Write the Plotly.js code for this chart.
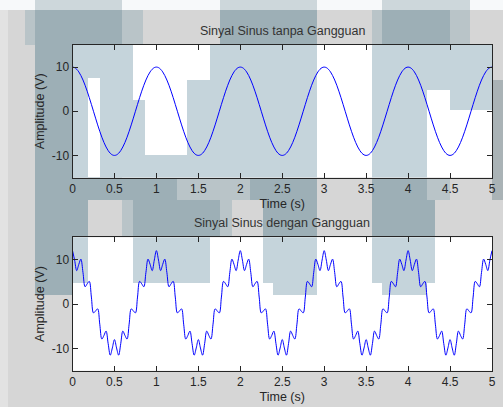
<!DOCTYPE html>
<html>
<head>
<meta charset="utf-8">
<script src="https://cdn.plot.ly/plotly-3.0.1.min.js"></script>
<style>html,body{margin:0;padding:0;background:#d6d6d6;}#chart{width:503px;height:407px;}</style>
</head>
<body>
<div id="chart"></div>
<script>
// ---------- DATA ----------
const timeSec = [
0,0.025,0.05,0.075,0.1,0.125,0.15,0.175,0.2,0.225,0.25,0.275,0.3,0.325,0.35,0.375,0.4,0.425,0.45,0.475,0.5,0.525,0.55,0.575,0.6,0.625,0.65,0.675,0.7,0.725,0.75,0.775,0.8,0.825,0.85,0.875,0.9,0.925,0.95,0.975,
1,1.025,1.05,1.075,1.1,1.125,1.15,1.175,1.2,1.225,1.25,1.275,1.3,1.325,1.35,1.375,1.4,1.425,1.45,1.475,1.5,1.525,1.55,1.575,1.6,1.625,1.65,1.675,1.7,1.725,1.75,1.775,1.8,1.825,1.85,1.875,1.9,1.925,1.95,1.975,
2,2.025,2.05,2.075,2.1,2.125,2.15,2.175,2.2,2.225,2.25,2.275,2.3,2.325,2.35,2.375,2.4,2.425,2.45,2.475,2.5,2.525,2.55,2.575,2.6,2.625,2.65,2.675,2.7,2.725,2.75,2.775,2.8,2.825,2.85,2.875,2.9,2.925,2.95,2.975,
3,3.025,3.05,3.075,3.1,3.125,3.15,3.175,3.2,3.225,3.25,3.275,3.3,3.325,3.35,3.375,3.4,3.425,3.45,3.475,3.5,3.525,3.55,3.575,3.6,3.625,3.65,3.675,3.7,3.725,3.75,3.775,3.8,3.825,3.85,3.875,3.9,3.925,3.95,3.975,
4,4.025,4.05,4.075,4.1,4.125,4.15,4.175,4.2,4.225,4.25,4.275,4.3,4.325,4.35,4.375,4.4,4.425,4.45,4.475,4.5,4.525,4.55,4.575,4.6,4.625,4.65,4.675,4.7,4.725,4.75,4.775,4.8,4.825,4.85,4.875,4.9,4.925,4.95,4.975,
5];

const sinyalTanpaGangguan = [
10,9.88,9.51,8.91,8.09,7.07,5.88,4.54,3.09,1.56,0,-1.56,-3.09,-4.54,-5.88,-7.07,-8.09,-8.91,-9.51,-9.88,-10,-9.88,-9.51,-8.91,-8.09,-7.07,-5.88,-4.54,-3.09,-1.56,0,1.56,3.09,4.54,5.88,7.07,8.09,8.91,9.51,9.88,
10,9.88,9.51,8.91,8.09,7.07,5.88,4.54,3.09,1.56,0,-1.56,-3.09,-4.54,-5.88,-7.07,-8.09,-8.91,-9.51,-9.88,-10,-9.88,-9.51,-8.91,-8.09,-7.07,-5.88,-4.54,-3.09,-1.56,0,1.56,3.09,4.54,5.88,7.07,8.09,8.91,9.51,9.88,
10,9.88,9.51,8.91,8.09,7.07,5.88,4.54,3.09,1.56,0,-1.56,-3.09,-4.54,-5.88,-7.07,-8.09,-8.91,-9.51,-9.88,-10,-9.88,-9.51,-8.91,-8.09,-7.07,-5.88,-4.54,-3.09,-1.56,0,1.56,3.09,4.54,5.88,7.07,8.09,8.91,9.51,9.88,
10,9.88,9.51,8.91,8.09,7.07,5.88,4.54,3.09,1.56,0,-1.56,-3.09,-4.54,-5.88,-7.07,-8.09,-8.91,-9.51,-9.88,-10,-9.88,-9.51,-8.91,-8.09,-7.07,-5.88,-4.54,-3.09,-1.56,0,1.56,3.09,4.54,5.88,7.07,8.09,8.91,9.51,9.88,
10,9.88,9.51,8.91,8.09,7.07,5.88,4.54,3.09,1.56,0,-1.56,-3.09,-4.54,-5.88,-7.07,-8.09,-8.91,-9.51,-9.88,-10,-9.88,-9.51,-8.91,-8.09,-7.07,-5.88,-4.54,-3.09,-1.56,0,1.56,3.09,4.54,5.88,7.07,8.09,8.91,9.51,9.88,
10];

const sinyalDenganGangguan = [
12,9.88,7.51,8.91,10.09,7.07,3.88,4.54,5.09,1.56,-2,-1.56,-1.09,-4.54,-7.88,-7.07,-6.09,-8.91,-11.51,-9.88,-8,-9.88,-11.51,-8.91,-6.09,-7.07,-7.88,-4.54,-1.09,-1.56,-2,1.56,5.09,4.54,3.88,7.07,10.09,8.91,7.51,9.88,
12,9.88,7.51,8.91,10.09,7.07,3.88,4.54,5.09,1.56,-2,-1.56,-1.09,-4.54,-7.88,-7.07,-6.09,-8.91,-11.51,-9.88,-8,-9.88,-11.51,-8.91,-6.09,-7.07,-7.88,-4.54,-1.09,-1.56,-2,1.56,5.09,4.54,3.88,7.07,10.09,8.91,7.51,9.88,
12,9.88,7.51,8.91,10.09,7.07,3.88,4.54,5.09,1.56,-2,-1.56,-1.09,-4.54,-7.88,-7.07,-6.09,-8.91,-11.51,-9.88,-8,-9.88,-11.51,-8.91,-6.09,-7.07,-7.88,-4.54,-1.09,-1.56,-2,1.56,5.09,4.54,3.88,7.07,10.09,8.91,7.51,9.88,
12,9.88,7.51,8.91,10.09,7.07,3.88,4.54,5.09,1.56,-2,-1.56,-1.09,-4.54,-7.88,-7.07,-6.09,-8.91,-11.51,-9.88,-8,-9.88,-11.51,-8.91,-6.09,-7.07,-7.88,-4.54,-1.09,-1.56,-2,1.56,5.09,4.54,3.88,7.07,10.09,8.91,7.51,9.88,
12,9.88,7.51,8.91,10.09,7.07,3.88,4.54,5.09,1.56,-2,-1.56,-1.09,-4.54,-7.88,-7.07,-6.09,-8.91,-11.51,-9.88,-8,-9.88,-11.51,-8.91,-6.09,-7.07,-7.88,-4.54,-1.09,-1.56,-2,1.56,5.09,4.54,3.88,7.07,10.09,8.91,7.51,9.88,
12];

const xTickVals = [0,0.5,1,1.5,2,2.5,3,3.5,4,4.5,5];
const xTickText = ['0','0.5','1','1.5','2','2.5','3','3.5','4','4.5','5'];
const yTickVals = [-10,0,10];
const yTickText = ['-10','0','10'];
const titleTop = 'Sinyal Sinus tanpa Gangguan';
const titleBottom = 'Sinyal Sinus dengan Gangguan';
const xTitle = 'Time (s)';
const yTitle = 'Amplitude (V)';

// ---------- DECORATION (background blocks, pixel coords) ----------
const W = 503, H = 407;
const D = '#9dafb6', M = '#b9c4c8', TS = '#cdd7db', L = '#c5d4db';
const outsideBlocks = [
  [0,503,0,10,'#f7f9fa'],
  [35,122,0,10,TS],[220,317,0,10,TS],[382,470,0,10,TS],
  [0,8,10,407,'#e2e2e2'],
  [35,122,10,200,D],[35,88,200,240,D],[35,73,240,295,D],
  [25,35,10,45,M],[122,143,10,45,M],[220,317,10,45,D],[372,382,10,45,M],[382,450,10,45,D],[450,470,10,45,M],
  [122,177,178,200,D],[177,250,178,200,M],[250,317,178,200,D],[372,427,178,200,D],[427,450,178,200,M],
  [492,503,80,200,'#aab3b6'],
  [122,133,200,237,M],[133,220,200,237,D],[220,232,200,237,M],[263,317,200,237,D],[372,435,200,237,D]
];
const axesRects = [[72.5,492,45,177.5],[73,492,237.3,370.7]];
const insideBlocks = [
  [72.5,88,45,177.5],[88,100,45,78],[100,133,45,177.5],[133,145,100,177.5],[145,187,155,177.5],
  [187,210,80,177.5],[210,317,45,177.5],[372,427,45,177.5],[427,450,45,90],[450,492,45,110],
  [73,88,237.3,283],[133,210,237.3,283],[263,317,237.3,283],[273,317,283,295],[372,435,237.3,283],[382,427,283,295]
];
function rectShape(x0,x1,y0,y1,color){
  return {type:'rect', xref:'paper', yref:'paper', layer:'below',
    x0:x0/W, x1:x1/W, y0:1-y1/H, y1:1-y0/H, fillcolor:color, line:{width:0}};
}
const shapes = [];
outsideBlocks.forEach(b => shapes.push(rectShape(b[0],b[1],b[2],b[3],b[4])));
axesRects.forEach(b => shapes.push(rectShape(b[0],b[1],b[2],b[3],'#ffffff')));
insideBlocks.forEach(b => shapes.push(rectShape(b[0],b[1],b[2],b[3],L)));

// ---------- CHART ----------
const FONT = 'Arial, "Liberation Sans", sans-serif';
const INK = '#262626';
const traces = [
  {x: timeSec, y: sinyalTanpaGangguan, type:'scatter', mode:'lines', xaxis:'x', yaxis:'y',
   line:{color:'#0000ff', width:1, shape:'spline', smoothing:1}, hoverinfo:'skip', showlegend:false},
  {x: timeSec, y: sinyalDenganGangguan, type:'scatter', mode:'lines', xaxis:'x2', yaxis:'y2',
   line:{color:'#0000ff', width:1, shape:'spline', smoothing:1}, hoverinfo:'skip', showlegend:false}
];
const xDom = [72.5/W, 492/W];
function xAxis(anchor){
  return {domain:xDom, anchor:anchor, range:[0,5], tickvals:xTickVals, ticktext:xTickText,
    ticks:'inside', ticklen:5, tickcolor:INK, showline:true, linecolor:INK, linewidth:1, mirror:'ticks',
    showgrid:false, zeroline:false, tickfont:{family:FONT, size:12, color:INK},
    title:{text:xTitle, font:{family:FONT, size:12.5, color:INK}, standoff:4}};
}
function yAxis(anchor, dom){
  return {domain:dom, anchor:anchor, range:[-15,15], tickvals:yTickVals, ticktext:yTickText,
    ticks:'inside', ticklen:5, tickcolor:INK, showline:true, linecolor:INK, linewidth:1, mirror:'ticks',
    showgrid:false, zeroline:false, tickfont:{family:FONT, size:12, color:INK},
    title:{text:yTitle, font:{family:FONT, size:12.5, color:INK}, standoff:4}};
}
const layout = {
  width:W, height:H, margin:{l:0,r:0,t:0,b:0},
  paper_bgcolor:'#d6d6d6', plot_bgcolor:'rgba(0,0,0,0)',
  showlegend:false,
  xaxis:xAxis('y'), yaxis:yAxis('x', [1-177.5/H, 1-45/H]),
  xaxis2:xAxis('y2'), yaxis2:yAxis('x2', [1-370.7/H, 1-237.3/H]),
  shapes:shapes,
  annotations:[
    {text:titleTop, xref:'paper', yref:'paper', x:(72.5+492)/2/W, y:1-31/H, xanchor:'center', yanchor:'middle',
     showarrow:false, font:{family:FONT, size:12.5, color:'#333333'}},
    {text:titleBottom, xref:'paper', yref:'paper', x:(72.5+492)/2/W, y:1-223.3/H, xanchor:'center', yanchor:'middle',
     showarrow:false, font:{family:FONT, size:12.5, color:'#333333'}}
  ]
};
Plotly.newPlot('chart', traces, layout, {displayModeBar:false, staticPlot:true});
</script>
</body>
</html>
